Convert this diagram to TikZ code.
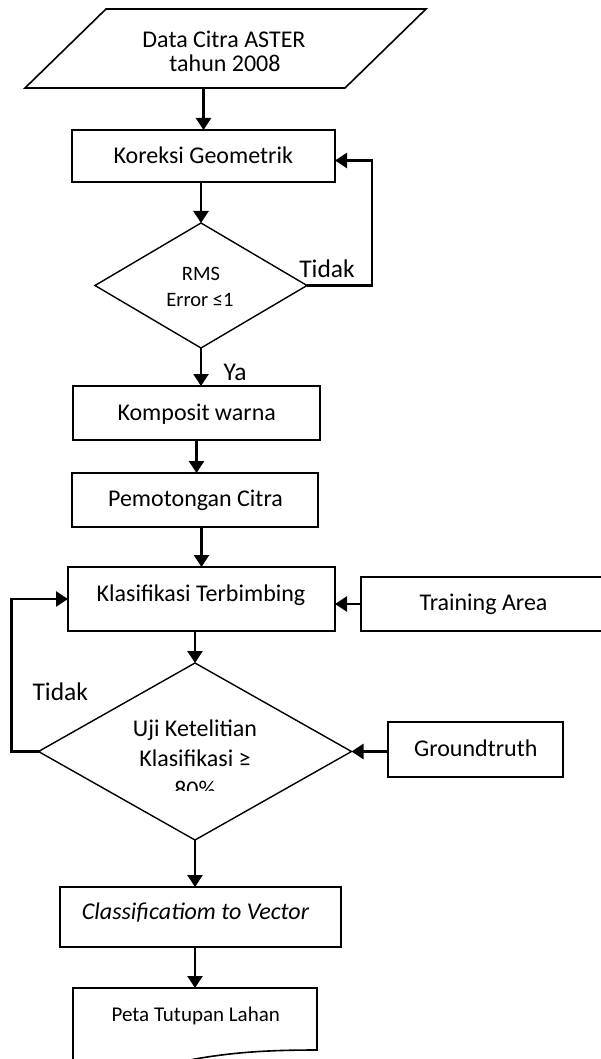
\documentclass[tikz,border=0pt]{standalone}
\usepackage{fontspec}
\setmainfont{Carlito}
\usetikzlibrary{shapes.geometric,arrows.meta}
\begin{document}
\begin{tikzpicture}[x=1pt,y=-1pt,
  box/.style={draw,line width=1.6pt,inner sep=0pt,outer sep=0pt},
  ghost/.style={inner sep=0pt,outer sep=0pt},
  dia/.style={draw,diamond,line width=1.4pt,inner sep=0pt,outer sep=0pt},
  arr/.style={line width=2.5pt,-{Triangle[width=15pt,length=12pt]}},
  txt/.style={font=\fontsize{24}{28}\selectfont,inner sep=0pt,anchor=base},
  small/.style={font=\fontsize{20.5}{24}\selectfont,inner sep=0pt,anchor=base},
  big/.style={font=\fontsize{25.5}{30}\selectfont,inner sep=0pt,anchor=base},
  doctxt/.style={font=\fontsize{21}{25}\selectfont,inner sep=0pt,anchor=base}]
\useasboundingbox (0,0) rectangle (601,1059);
\clip (0,0) rectangle (601,1059);
\fill[white] (0,0) rectangle (601,1059);

% input parallelogram
\draw[line width=1.6pt] (25,88) -- (106,9) -- (426,9) -- (345,88) -- cycle;
\node[ghost,minimum width=240pt,minimum height=79pt] (data) at (225,48.5) {};
\node[txt] (dataA) at (224,47.7) {Data Citra ASTER};
\node[txt] (dataB) at (225,71.7) {tahun 2008};

% Koreksi
\node[box,minimum width=263pt,minimum height=52pt] (kor) at (203.5,156) {};
\node[txt] (korT) at (203.3,164) {Koreksi Geometrik};

% RMS diamond
\node[dia,minimum width=212pt,minimum height=125pt] (rms) at (201,285.5) {};
\node[small] (rmsA) at (201,280.7) {RMS};
\node[small] (rmsB) at (200,306.7) {Error ≤1};
\node[big] (tidakA) at (327,277) {Tidak};
\node[big] (ya) at (235,380.7) {Ya};

% Komposit
\node[box,minimum width=247pt,minimum height=54pt] (kom) at (196.5,413) {};
\node[txt] (komT) at (196.7,420) {Komposit warna};

% Pemotongan
\node[box,minimum width=246pt,minimum height=54pt] (pem) at (195,500) {};
\node[txt] (pemT) at (195.5,506) {Pemotongan Citra};

% Klasifikasi
\node[box,minimum width=267pt,minimum height=64pt] (kla) at (201.5,599) {};
\node[txt] (klaT) at (201,601) {Klasifikasi Terbimbing};

% Training area
\node[box,minimum width=245pt,minimum height=54pt] (train) at (483.5,604) {};
\node[txt] (trainT) at (483.5,610.7) {Training Area};

% Uji diamond
\node[dia,minimum width=313pt,minimum height=177pt] (uji) at (195,751.5) {};
\node[txt] (ujiA) at (195,736) {Uji Ketelitian};
\node[txt] (ujiB) at (195,766.7) {Klasifikasi ≥};
\begin{scope}
  \clip (0,0) rectangle (601,790);
  \node[txt] (ujiC) at (195,797.4) {80\%};
\end{scope}
\node[big] (tidakB) at (60.3,700.7) {Tidak};

% Groundtruth
\node[box,minimum width=175pt,minimum height=55pt] (gt) at (475.5,749.5) {};
\node[txt] (gtT) at (475.8,756) {Groundtruth};

% Classification to vector
\node[box,minimum width=281pt,minimum height=60pt] (cls) at (200.5,917) {};
\node[txt] (clsT) at (195.5,919.3) {\itshape Classificatiom to Vector};

% Document
\node[ghost,minimum width=244pt,minimum height=84pt] (doc) at (195,1030) {};
\draw[line width=1.6pt] (73,1080) -- (73,988) -- (317,988) -- (317,1050)
  .. controls (270,1050) and (235,1052) .. (195,1059)
  .. controls (160,1066) and (120,1075) .. (73,1080);
\node[doctxt] (docT) at (195.8,1021.7) {Peta Tutupan Lahan};

% connectors
\draw[arr] (data.south -| kor.north) -- (kor.north);
\draw[arr] (rms.north |- kor.south) -- (rms.north);
\draw[arr] (rms.east) -- ++(65,0) |- ([yshift=-4.5pt]kor.east);
\draw[arr] (rms.south) -- (rms.south |- kom.north);
\draw[arr] (kom.south) -- (kom.south |- pem.north);
\draw[arr] (kla.north |- pem.south) -- (kla.north);
\draw[arr] (train.west) -- (train.west -| kla.east);
\draw[arr] (uji.north |- kla.south) -- (uji.north);
\draw[arr] (uji.west) -- ++(-27,0) |- (kla.west);
\draw[arr] (gt.west |- uji.east) -- (uji.east);
\draw[arr] (uji.south) -- (uji.south |- cls.north);
\draw[arr] (doc.north |- cls.south) -- (doc.north);
\end{tikzpicture}
\end{document}
